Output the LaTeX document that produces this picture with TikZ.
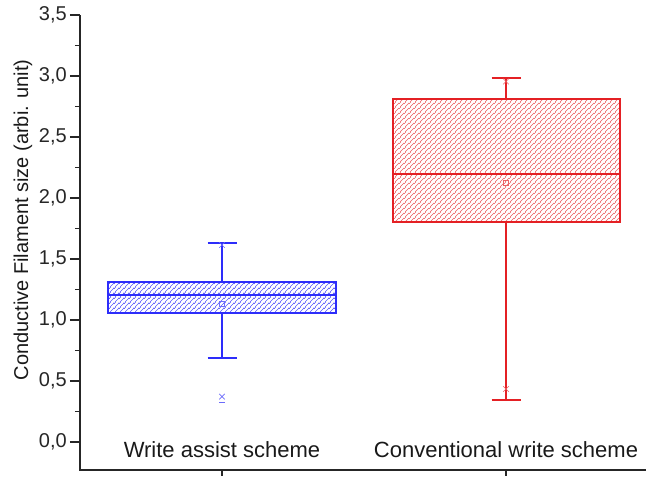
\documentclass[tikz,border=0pt]{standalone}
\usepackage{fontspec}
\setmainfont{Liberation Sans}
\usetikzlibrary{patterns.meta,shapes.misc}

\definecolor{wablue}{RGB}{45,45,250}
\definecolor{cwred}{RGB}{228,32,36}
\def\capw{14.5}

% hatch fills in the box colours
\tikzdeclarepattern{name=bluehatch,type=colored,
  bottom left={(0pt,0pt)},top right={(5pt,5pt)},tile size={(5pt,5pt)},
  code={\draw[wablue!80,line width=0.7pt] (-1pt,-1pt) -- (6pt,6pt) (-1pt,4pt) -- (1pt,6pt) (4pt,-1pt) -- (6pt,1pt);}}
\tikzdeclarepattern{name=redhatch,type=colored,
  bottom left={(0pt,0pt)},top right={(5pt,5pt)},tile size={(5pt,5pt)},
  code={\draw[cwred!75,line width=0.7pt] (-1pt,-1pt) -- (6pt,6pt) (-1pt,4pt) -- (1pt,6pt) (4pt,-1pt) -- (6pt,1pt);}}

\begin{document}
\begin{tikzpicture}[x=1pt,y=122pt]
				\tikzstyle{axisline}=[line width=1.8pt,black!85]
				\tikzstyle{ticklabel}=[anchor=east,inner sep=0pt,font=\fontsize{20}{24}\selectfont,black!85]
				\tikzstyle{catlabel}=[anchor=base,inner sep=0pt,font=\fontsize{22}{26}\selectfont,black!90]
				\tikzstyle{boxline}=[line width=1.4pt]
				\tikzstyle{meanmark}=[draw,rectangle,minimum size=5pt,inner sep=0pt,line width=0.6pt]
				\tikzstyle{crossmark}=[draw,cross out,minimum size=5pt,inner sep=0pt,line width=0.6pt]

			    \useasboundingbox (-80,-0.2787) rectangle (566,3.623);

			    % Axes
			    \draw[axisline] (0,3.5) -- (0,-0.2295) -- (566,-0.2295);
			    \foreach \v/\a/\b in {0/0/0,0.5/0/5,1/1/0,1.5/1/5,2/2/0,2.5/2/5,3/3/0,3.5/3/5}
			        {\draw[axisline,line width=1.4pt] (-10,\v) -- (0,\v);
			         \node[ticklabel] (tick\a\b) at (-13,\v) {\a,\b};}
			    \foreach \v in {0.25,0.75,...,3.25}
			        \draw[axisline,line width=1.4pt] (-5,\v) -- (0,\v);
			    \foreach \x in {142,426}
			        \draw[axisline,line width=1.4pt] (\x,-0.2295) -- (\x,-0.2787);

			    % Axis and category labels
			    \node[rotate=90,inner sep=0pt,font=\fontsize{20}{24}\selectfont,black!90] (ylab) at (-57,1.82) {Conductive Filament size (arbi. unit)};
			    \node[catlabel] (wa) at (142,-0.125) {Write assist scheme};
			    \node[catlabel] (cw) at (426,-0.125) {Conventional write scheme};

			    % Write assist box
			    \coordinate (wa top) at (142,1.631);
			    \coordinate (wa q3) at (142,1.311);
			    \coordinate (wa q1) at (142,1.057);
			    \coordinate (wa bot) at (142,0.689);
			    \fill[pattern=bluehatch] (28,1.057) rectangle (256,1.311);
			    \draw[boxline,wablue] (28,1.057) rectangle (256,1.311);
			    \draw[boxline,wablue] (28,1.205) -- (256,1.205);
			    \draw[boxline,wablue] (wa q3) -- (wa top);
			    \draw[boxline,wablue] (wa q1) -- (wa bot);
			    \draw[boxline,wablue] ([xshift=-\capw pt]wa top) -- ([xshift=\capw pt]wa top);
			    \draw[boxline,wablue] ([xshift=-\capw pt]wa bot) -- ([xshift=\capw pt]wa bot);
			    \node[meanmark,wablue!70] (wa mean) at (142,1.131) {};
			    \node[crossmark,wablue!70] (wa max) at (142,1.615) {};
			    \node[crossmark,wablue!70] (wa min) at (142,0.372) {};
			    \draw[wablue!70,line width=0.8pt] (139,0.328) -- (145,0.328);

			    % Conventional write box
			    \coordinate (cw top) at (426,2.984);
			    \coordinate (cw q3) at (426,2.811);
			    \coordinate (cw q1) at (426,1.803);
			    \coordinate (cw bot) at (426,0.344);
			    \fill[pattern=redhatch] (313,1.803) rectangle (540,2.811);
			    \draw[boxline,cwred] (313,1.803) rectangle (540,2.811);
			    \draw[boxline,cwred] (313,2.197) -- (540,2.197);
			    \draw[boxline,cwred] (cw q3) -- (cw top);
			    \draw[boxline,cwred] (cw q1) -- (cw bot);
			    \draw[boxline,cwred] ([xshift=-\capw pt]cw top) -- ([xshift=\capw pt]cw top);
			    \draw[boxline,cwred] ([xshift=-\capw pt]cw bot) -- ([xshift=\capw pt]cw bot);
			    \node[meanmark,cwred!70] (cw mean) at (426,2.123) {};
			    \node[crossmark,cwred!70] (cw max) at (426,2.955) {};
			    \node[crossmark,cwred!70] (cw min) at (426,0.434) {};

			\end{tikzpicture}
\end{document}
